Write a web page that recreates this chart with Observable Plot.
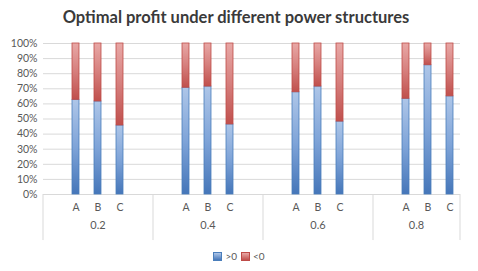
<!DOCTYPE html>
<html>
<head>
<meta charset="utf-8">
<script src="https://cdn.jsdelivr.net/npm/d3@7"></script>
<script src="https://cdn.jsdelivr.net/npm/@observablehq/plot@0.6"></script>
<style>
  body { margin: 0; background: #fff; width: 478px; font-family: Lato, "Open Sans", sans-serif; }
  #title { height: 34px; line-height: 34px; text-align: center; font-weight: bold; font-size: 16.5px; color: #3a3a3a; padding-right: 6px; }
  #legend { height: 20px; display: flex; justify-content: center; align-items: center; font-size: 10px; color: #595959; }
  .sw { width: 7px; height: 7px; display: inline-block; margin-right: 3px; }
  .item { display: flex; align-items: center; margin: 0 2px; }
  svg rect.bar { filter: drop-shadow(1.2px 0.5px 0.8px rgba(0,0,0,0.22)); }
</style>
</head>
<body>
<div id="title">Optimal profit under different power structures</div>
<div id="chart"></div>
<div id="legend"></div>
<script>
const groups = ["0.2", "0.4", "0.6", "0.8"];
const series = ["A", "B", "C"];
const signs = [">0", "<0"];
// share (%) of each bar, per series, across groups 0.2, 0.4, 0.6, 0.8
const posA = [62.7, 70.7, 67.7, 63.4];
const posB = [61.6, 71.5, 71.5, 85.6];
const posC = [45.7, 46.4, 48.3, 65.0];
const negA = [37.3, 29.3, 32.3, 36.6];
const negB = [38.4, 28.5, 28.5, 14.4];
const negC = [54.3, 53.6, 51.7, 35.0];
const yTicks = [0, 0.1, 0.2, 0.3, 0.4, 0.5, 0.6, 0.7, 0.8, 0.9, 1];

const pos = {A: posA, B: posB, C: posC};
const neg = {A: negA, B: negB, C: negC};
const slots = groups.flatMap(g => [g + " pad1", ...series.map(s => g + " " + s), g + " pad2"]);
const barKeys = groups.flatMap(g => series.map(s => g + " " + s));
const rows = [];
groups.forEach((g, gi) => series.forEach(s => {
  rows.push({key: g + " " + s, sign: ">0", value: pos[s][gi]});
  rows.push({key: g + " " + s, sign: "<0", value: neg[s][gi]});
}));

const grid = "#d9d9d9";
const plot = Plot.plot({
  width: 478, height: 212,
  marginTop: 9, marginBottom: 52, marginLeft: 43, marginRight: 18,
  style: {fontFamily: "Lato, 'Open Sans', sans-serif", fontSize: "10px", background: "#fff"},
  x: {domain: slots, range: [43, 483], paddingInner: 0.66, paddingOuter: 0.33, axis: null},
  y: {domain: [0, 1], axis: null},
  color: {domain: signs, range: ["url(#gradPos)", "url(#gradNeg)"]},
  marks: [
    Plot.ruleY(yTicks, {stroke: grid, strokeWidth: 1}),
    Plot.axisY(yTicks, {tickFormat: d3.format(".0%"), tickSize: 0, tickPadding: 6, fontSize: 10.5, fill: "#595959", label: null}),
    Plot.barY(rows, Plot.stackY({x: "key", y: "value", z: "sign", fill: "sign", offset: "normalize", className: "bar"})),
    Plot.ruleX(groups.map(g => g + " pad1"), {y1: 0, y2: -0.305, dx: -11, stroke: grid}),
    Plot.ruleX([groups[groups.length - 1] + " pad2"], {y1: 0, y2: -0.305, dx: -12, stroke: grid}),
    Plot.text(barKeys, {x: d => d, text: d => d.split(" ")[1], frameAnchor: "bottom", dy: 16, fill: "#595959", fontSize: 10.5}),
    Plot.text(groups.slice(0, 3), {x: g => g + " B", text: g => g, frameAnchor: "bottom", dy: 34, fill: "#595959", fontSize: 11}),
    Plot.text(groups.slice(3), {x: g => g + " B", text: g => g, frameAnchor: "bottom", dy: 34, dx: -11.5, fill: "#595959", fontSize: 11})
  ]
});

const ns = "http://www.w3.org/2000/svg";
const defs = document.createElementNS(ns, "defs");
function grad(id, stops) {
  const lg = document.createElementNS(ns, "linearGradient");
  lg.setAttribute("id", id);
  lg.setAttribute("x1", "0"); lg.setAttribute("y1", "0");
  lg.setAttribute("x2", "0"); lg.setAttribute("y2", "1");
  stops.forEach(([o, c]) => {
    const st = document.createElementNS(ns, "stop");
    st.setAttribute("offset", o); st.setAttribute("stop-color", c);
    lg.appendChild(st);
  });
  defs.appendChild(lg);
}
grad("gradPos", [[0, "#aec6e8"], [0.5, "#7fa4d8"], [1, "#4576b9"]]);
grad("gradNeg", [[0, "#e8a8a6"], [0.5, "#d67f7d"], [1, "#c0504d"]]);
plot.insertBefore(defs, plot.firstChild);
plot.querySelectorAll("rect").forEach(r => {
  const f = r.getAttribute("fill");
  if (f === "url(#gradPos)") { r.setAttribute("stroke", "#4a7ebb"); r.setAttribute("stroke-width", "0.8"); }
  if (f === "url(#gradNeg)") { r.setAttribute("stroke", "#be4b48"); r.setAttribute("stroke-width", "0.8"); }
});
document.getElementById("chart").appendChild(plot);

const legend = document.getElementById("legend");
const swCss = {">0": ["linear-gradient(#aec6e8,#4576b9)", "#4a7ebb"], "<0": ["linear-gradient(#e8a8a6,#c0504d)", "#be4b48"]};
signs.forEach(s => {
  const it = document.createElement("span");
  it.className = "item";
  const sw = document.createElement("span");
  sw.className = "sw";
  sw.style.background = swCss[s][0];
  sw.style.border = "0.8px solid " + swCss[s][1];
  it.appendChild(sw);
  it.appendChild(document.createTextNode(s));
  legend.appendChild(it);
});
</script>
</body>
</html>
